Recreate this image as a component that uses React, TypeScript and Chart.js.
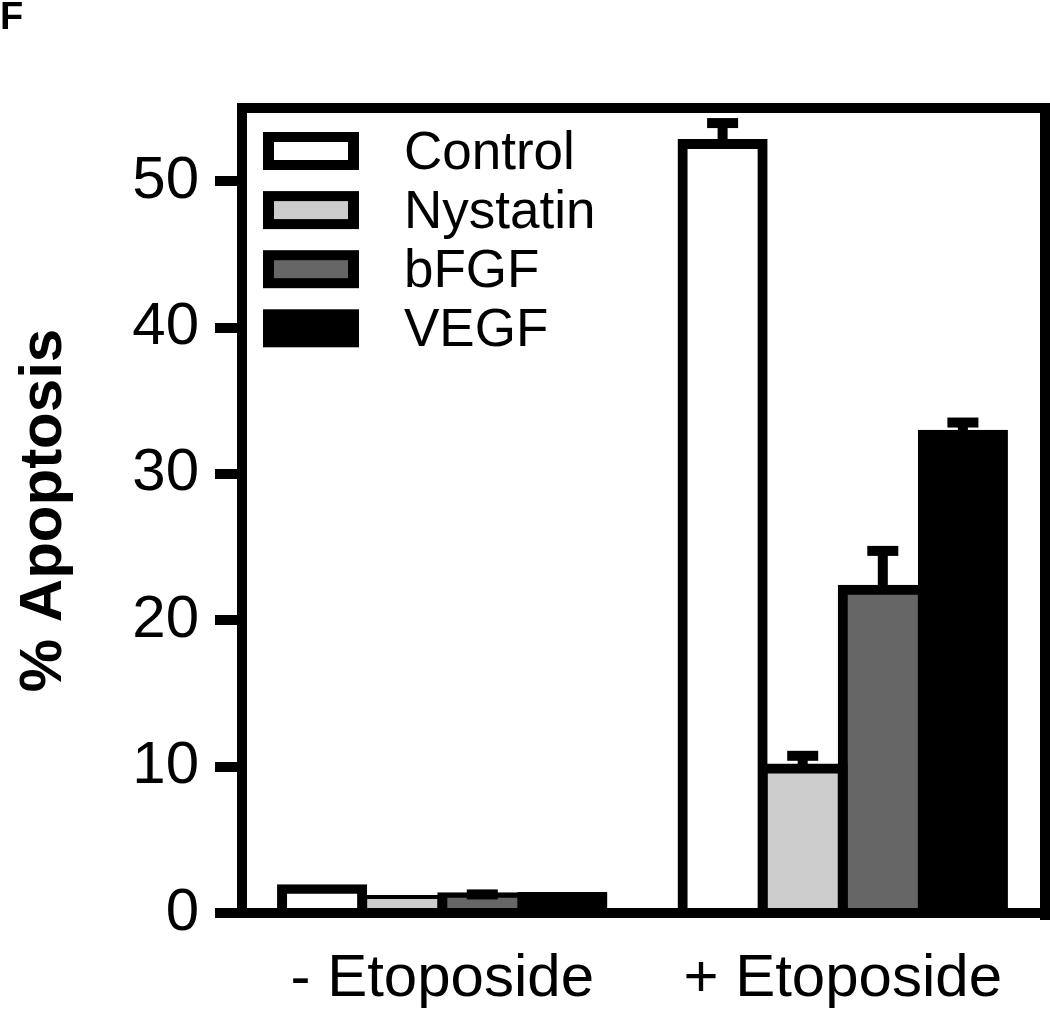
import React, { useEffect, useRef } from "react";
import { Chart, registerables } from "chart.js";

Chart.register(...registerables);

// ---- data ----
const categories = ["- Etoposide", "+ Etoposide"];
const seriesNames = ["Control", "Nystatin", "bFGF", "VEGF"];
const controlValues = [1.62, 52.54];
const nystatinValues = [0.89, 9.88];
const bfgfValues = [1.07, 22.08];
const vegfValues = [1.09, 32.67];
const controlErrors = [0, 1.43];
const nystatinErrors = [0, 0.86];
const bfgfErrors = [0.2, 2.66];
const vegfErrors = [0, 0.84];
const yTicks = [0, 10, 20, 30, 40, 50];
const yMin = 0;
const yMax = 55;
const panelLetter = "F";
const yTitle = "% Apoptosis";

// ---- styles ----
const seriesFills = ["#ffffff", "#cccccc", "#666666", "#000000"];
const FONT = "'Liberation Sans', Arial, Helvetica, sans-serif";
const W = 1050;
const H = 1013;

const seriesValues = [controlValues, nystatinValues, bfgfValues, vegfValues];
const seriesErrors = [controlErrors, nystatinErrors, bfgfErrors, vegfErrors];

const errorBarPlugin = {
  id: "errorBars",
  afterDatasetsDraw(chart: any) {
    const ctx = chart.ctx;
    const ys = chart.scales.y;
    ctx.save();
    ctx.fillStyle = "#000";
    chart.data.datasets.forEach((ds: any, di: number) => {
      const meta = chart.getDatasetMeta(di);
      const errs = seriesErrors[di];
      meta.data.forEach((bar: any, i: number) => {
        const v = ds.data[i];
        const e = errs[i];
        if (!e) return;
        const x = bar.x;
        const yTop = ys.getPixelForValue(v + e);
        const yBar = ys.getPixelForValue(v);
        ctx.fillRect(x - 5, yTop, 10, yBar - yTop);
        ctx.fillRect(x - 15.5, yTop - 5, 31, 10);
      });
    });
    ctx.restore();
  },
};

const framePlugin = {
  id: "frame",
  afterDraw(chart: any) {
    const { ctx, chartArea } = chart;
    const { left, top, right, bottom } = chartArea;
    ctx.save();
    ctx.fillStyle = "#000";
    ctx.fillRect(left - 5, top - 5, right + 7 - (left - 5), 10);
    ctx.fillRect(right - 3, top - 5, 10, bottom + 7 - (top - 5));
    ctx.restore();
  },
};

const legendPlugin = {
  id: "insideLegend",
  afterDraw(chart: any) {
    const { ctx, chartArea } = chart;
    const x0 = chartArea.left + 21;
    const y0 = chartArea.top + 24;
    const step = 59.1;
    ctx.save();
    ctx.font = `53px ${FONT}`;
    ctx.textBaseline = "middle";
    ctx.textAlign = "left";
    chart.data.datasets.forEach((ds: any, i: number) => {
      const y = y0 + i * step;
      ctx.fillStyle = "#000";
      ctx.fillRect(x0, y, 96, 38);
      ctx.fillStyle = ds.backgroundColor;
      ctx.fillRect(x0 + 11, y + 10, 74, 18);
      ctx.fillStyle = "#000";
      ctx.fillText(ds.label, chartArea.left + 162, y + 22);
    });
    ctx.restore();
  },
};

export default function App() {
  const canvasRef = useRef<HTMLCanvasElement | null>(null);

  useEffect(() => {
    if (!canvasRef.current) return;
    Chart.defaults.font.family = FONT;
    const chart = new Chart(canvasRef.current, {
      type: "bar",
      data: {
        labels: categories,
        datasets: seriesNames.map((name, i) => ({
          label: name,
          data: seriesValues[i],
          backgroundColor: seriesFills[i],
          borderColor: "#000000",
          borderWidth: 10,
          borderSkipped: "start",
          inflateAmount: 5,
          categoryPercentage: 0.8,
          barPercentage: 1.0,
        })) as any,
      },
      options: {
        responsive: false,
        maintainAspectRatio: false,
        animation: false,
        devicePixelRatio: 1,
        layout: { padding: { left: 0, right: 7, top: 0, bottom: 0 } },
        plugins: {
          legend: { display: false },
          tooltip: { enabled: false },
          title: {
            display: true,
            text: panelLetter,
            align: "start",
            color: "#000",
            font: { family: FONT, size: 38, weight: "bold", lineHeight: 1 },
            padding: { top: 0, bottom: 70 },
          },
        },
        scales: {
          x: {
            type: "category",
            offset: true,
            z: 1,
            grid: { display: false, drawTicks: false },
            border: { display: true, width: 10, color: "#000" },
            ticks: {
              color: "#000",
              font: { family: FONT, size: 60 },
              padding: 30,
              maxRotation: 0,
              autoSkip: false,
            },
            afterFit: (s: any) => {
              s.height = 100;
            },
          },
          y: {
            min: yMin,
            max: yMax,
            grid: {
              display: true,
              drawOnChartArea: false,
              drawTicks: true,
              tickLength: 27,
              lineWidth: 10,
              tickWidth: 10,
              color: "#000",
              tickColor: "#000",
            },
            border: { display: true, width: 10, color: "#000" },
            ticks: {
              color: "#000",
              font: { family: FONT, size: 60 },
              padding: 16,
            },
            afterBuildTicks: (s: any) => {
              s.ticks = yTicks.map((v) => ({ value: v }));
            },
            title: {
              display: true,
              text: yTitle,
              color: "#000",
              font: { family: FONT, size: 60, weight: "bold" },
              padding: { top: 8, bottom: 0 },
            },
            afterFit: (s: any) => {
              s.width = 242;
            },
          },
        },
      } as any,
      plugins: [errorBarPlugin, framePlugin, legendPlugin],
    });
    return () => chart.destroy();
  }, []);

  return (
    <div style={{ position: "fixed", left: 0, top: 0, width: W, height: H, background: "#fff" }}>
      <canvas ref={canvasRef} width={W} height={H} style={{ width: W, height: H, display: "block" }} />
    </div>
  );
}
